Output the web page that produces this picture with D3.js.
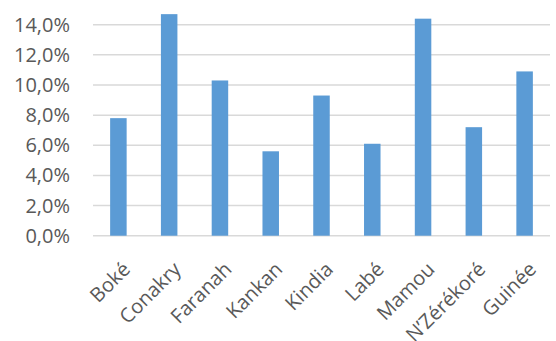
<!DOCTYPE html>
<html>
<head>
<meta charset="utf-8">
<script src="https://cdn.jsdelivr.net/npm/d3@7"></script>
<style>
  body { margin: 0; background: #fff; }
  .charts__text { font-family: "Open Sans", sans-serif; font-size: 20px; fill: #595959; }
</style>
</head>
<body>
<div id="chart" style="width:556px;height:341px;"></div>
<script>
// categories and values (percent)
const regions = ["Boké", "Conakry", "Faranah", "Kankan", "Kindia", "Labé", "Mamou", "N’Zérékoré", "Guinée"];
const rates = [7.8, 14.7, 10.3, 5.6, 9.3, 6.1, 14.4, 7.2, 10.9];
const yTicks = [0, 2, 4, 6, 8, 10, 12, 14];

const parent = document.getElementById("chart"),
      svg = d3.select(parent).append("svg"),
      svgWidth = 556,
      svgHeight = 341;

svg.attr("width", svgWidth).attr("height", svgHeight);

const margin = {top: 24.7, right: 6, bottom: 105.3, left: 93},
      width = svgWidth - margin.left - margin.right,
      height = svgHeight - margin.top - margin.bottom;

const g = svg.append("g")
    .attr("transform", "translate(" + margin.left + "," + margin.top + ")");

const x = d3.scaleBand()
    .domain(regions)
    .range([0, width])
    .paddingInner(0.675)
    .paddingOuter(0.3375);

const y = d3.scaleLinear()
    .domain([0, 14])
    .range([height, 0]);

// gridlines
g.append("g")
    .selectAll("line")
    .data(yTicks)
    .join("line")
    .attr("x1", 0)
    .attr("x2", width)
    .attr("y1", d => y(d))
    .attr("y2", d => y(d))
    .attr("stroke", "#d9d9d9")
    .attr("stroke-width", 1.5);

// y labels
g.append("g")
    .selectAll("text")
    .data(yTicks)
    .join("text")
    .attr("class", "charts__text")
    .attr("text-anchor", "end")
    .attr("x", -23)
    .attr("y", d => y(d))
    .attr("dy", "0.35em")
    .text(d => d.toFixed(1).replace(".", ",") + "%");

// bars
g.append("g")
    .selectAll("rect")
    .data(regions)
    .join("rect")
    .attr("x", d => x(d))
    .attr("width", x.bandwidth())
    .attr("y", (d, i) => y(rates[i]))
    .attr("height", (d, i) => y(0) - y(rates[i]))
    .attr("fill", "#5b9bd5");

// x labels
g.append("g")
    .selectAll("text")
    .data(regions)
    .join("text")
    .attr("class", "charts__text")
    .attr("text-anchor", "end")
    .attr("transform", d => "translate(" + (x(d) + x.bandwidth() / 2 + 8) + "," + (height + 30) + ") rotate(-45)")
    .attr("dy", "0.35em")
    .text(d => d);
</script>
</body>
</html>
